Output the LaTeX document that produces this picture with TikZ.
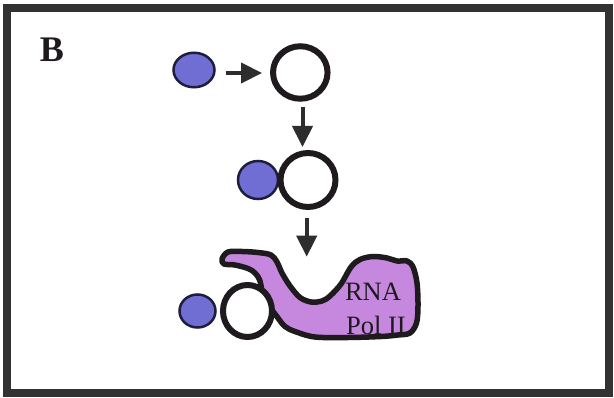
\documentclass[tikz,border=0pt]{standalone}
\usepackage{fontspec}
\setmainfont{Liberation Serif}
\usetikzlibrary{shapes.geometric,arrows.meta}
\definecolor{frameC}{RGB}{50,50,50}
\definecolor{blueC}{RGB}{112,110,210}
\definecolor{purpC}{RGB}{198,136,222}
\definecolor{inkC}{RGB}{30,26,30}
\definecolor{dotC}{RGB}{30,30,60}
\definecolor{arrC}{RGB}{45,45,45}
\tikzset{
  bluedot/.style={ellipse, draw=dotC, fill=blueC, line width=2.5pt, inner sep=0pt},
  ring/.style={ellipse, draw=inkC, fill=white, line width=6pt, inner sep=0pt},
  arr/.style={draw=arrC, line width=4pt, -{Triangle[length=21pt,width=20pt]}},
  lab/.style={text=inkC, font=\fontsize{26.5}{26.5}\selectfont, inner sep=0pt}
}
\begin{document}
\begin{tikzpicture}[x=1pt,y=-1pt]
\useasboundingbox (0,0) rectangle (614,398);
\fill[white] (0,0) rectangle (614,398);
\draw[frameC, line width=8pt] (7,8.5) rectangle (608.5,393);
\node[text=inkC, font=\bfseries\fontsize{36}{36}\selectfont, inner sep=0pt] (lbl) at (52,50) {B};

% purple RNA Pol II shape
\draw[fill=purpC, draw=inkC, line width=5.5pt, line join=round]
  plot[smooth cycle, tension=0.55] coordinates {
  (222,259) (228,252) (242,251.5) (258,252.5) (271,255) (277,262) (282,273)
  (290,286) (300,297.5) (311,302) (322,301) (330,296) (341,284) (351,267)
  (360,259.5) (373,256.5) (387,258) (397,261) (407,261) (413,267) (417,283)
  (418,306) (416.5,323) (410,333) (398,335) (381,336.5) (348,337.5) (315,337)
  (295,331.5) (285,326.5) (278,318) (264,298) (260,281) (255,273) (248,268.5)
  (235,265) (224,264)};
\node[lab] (rna) at (373,292) {RNA};
\node[lab] (pol) at (376,325) {Pol II};

% row 1
\node[bluedot, minimum width=41pt, minimum height=34.5pt] (blue1) at (194,70) {};
\node[ring, minimum width=54.5pt, minimum height=52.5pt] (c1) at (300.3,72.5) {};
% row 2
\node[bluedot, minimum width=40pt, minimum height=38pt] (blue2) at (258,180) {};
\node[ring, minimum width=55pt, minimum height=54pt] (c2) at (308,180) {};
% row 3
\node[bluedot, minimum width=36pt, minimum height=33pt] (blue3) at (197.5,311) {};
\node[ring, minimum width=49pt, minimum height=52pt] (c3) at (247.5,311) {};

% arrows
\draw[arr] ([xshift=10pt,yshift=-3pt]blue1.east) -- ([xshift=-8pt,yshift=-0.5pt]c1.west);
\draw[arr] ([xshift=2.2pt,yshift=-5pt]c1.south) -- ([xshift=-5.5pt,yshift=3pt]c2.north);
\coordinate (tip3) at (306.7,256.7);
\draw[arr] ([xshift=-1.3pt,yshift=-8pt]c2.south) -- (tip3);
\end{tikzpicture}
\end{document}
